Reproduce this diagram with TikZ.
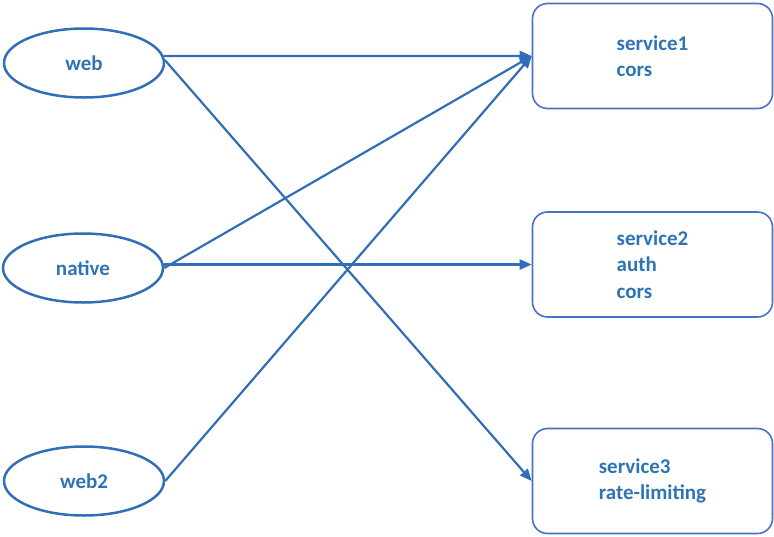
\documentclass[tikz,border=0pt]{standalone}
\usepackage{fontspec}
\setmainfont{Carlito}
\usetikzlibrary{arrows.meta,shapes.geometric}
\definecolor{txt}{RGB}{46,116,181}
\definecolor{ln}{RGB}{50,110,184}
\definecolor{bx}{RGB}{68,114,196}
\begin{document}
\begin{tikzpicture}[x=1pt,y=-1pt,
  client/.style={ellipse, draw=ln, line width=2.5pt, minimum width=160pt, minimum height=69pt, inner sep=0pt,
    font=\fontsize{21}{26}\selectfont\bfseries, text=txt},
  svc/.style={draw=bx, line width=1.6pt, rounded corners=15pt, minimum width=240pt, minimum height=105pt,
    align=left, font=\fontsize{21}{26.5}\selectfont\bfseries, text=txt},
  conn/.style={draw=ln, line width=2.2pt, -{Triangle[length=12pt,width=10pt]}}]
\useasboundingbox (0,0) rectangle (774,536);
\node[client] (web) at (84,63) {web};
\node[client] (native) at (83,268) {native};
\node[client] (web2) at (84,481) {web2};
\node[svc] (s1) at (652.5,56) {service1\\cors};
\node[svc] (s2) at (652.5,264.5) {service2\\auth\\cors};
\node[svc] (s3) at (652.5,481) {service3\\rate-limiting};
\draw[conn] (web.5) -- (s1.west);
\draw[conn] (web.2) -- (s3.west);
\draw[conn] (native.east) -- (s1.west);
\draw[conn] (native.east |- s2.west) -- (s2.west);
\draw[conn] (web2.east) -- (s1.west);
\end{tikzpicture}
\end{document}
